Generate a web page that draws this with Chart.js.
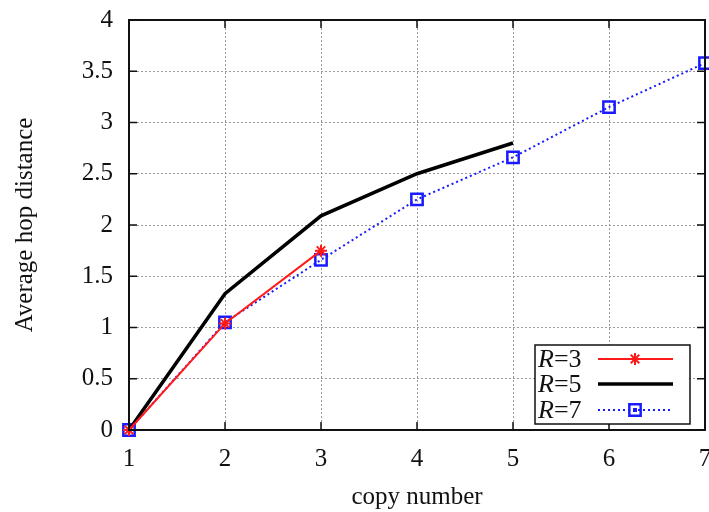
<!DOCTYPE html>
<html>
<head>
<meta charset="utf-8">
<script src="https://cdn.jsdelivr.net/npm/chart.js@4.4.0/dist/chart.umd.min.js"></script>
<style>
  html, body { margin: 0; padding: 0; background: #fff; }
  #wrap { width: 709px; height: 512px; }
</style>
</head>
<body>
<div id="wrap"><canvas id="hopChart" width="709" height="512"></canvas></div>
<script>
// Data
const copyNumbers = [1, 2, 3, 4, 5, 6, 7];
const hopR3 = [0, 1.04, 1.75];
const hopR5 = [0, 1.33, 2.09, 2.5, 2.8];
const hopR7 = [0, 1.05, 1.66, 2.25, 2.66, 3.15, 3.58];
const yTicks = [0, 0.5, 1, 1.5, 2, 2.5, 3, 3.5, 4];

const SERIF = '"Liberation Serif", "DejaVu Serif", serif';

// Frame, inward ticks and legend in gnuplot style
const framePlugin = {
    id: 'frame',
    afterDatasetsDraw(chart) {
        const { ctx, chartArea: a, scales } = chart;
        ctx.save();
        ctx.strokeStyle = '#111';
        ctx.lineWidth = 2;
        ctx.strokeRect(a.left, a.top, a.right - a.left, a.bottom - a.top);

        ctx.lineWidth = 1.5;
        ctx.beginPath();
        yTicks.forEach(v => {
            const y = scales.y.getPixelForValue(v);
            ctx.moveTo(a.left, y); ctx.lineTo(a.left + 8, y);
            ctx.moveTo(a.right, y); ctx.lineTo(a.right - 8, y);
        });
        copyNumbers.forEach((c, i) => {
            const x = scales.x.getPixelForValue(i);
            ctx.moveTo(x, a.bottom); ctx.lineTo(x, a.bottom - 8);
            ctx.moveTo(x, a.top); ctx.lineTo(x, a.top + 8);
        });
        ctx.stroke();

        // legend box
        const lx = 535, ly = 345, lw = 155, lh = 79;
        ctx.fillStyle = '#fff';
        ctx.fillRect(lx, ly, lw, lh);
        ctx.strokeStyle = '#111';
        ctx.lineWidth = 1.5;
        ctx.strokeRect(lx, ly, lw, lh);

        const rows = [359, 384, 410];
        chart.data.datasets.forEach((ds, i) => {
            const y = rows[i];
            ctx.fillStyle = '#111';
            ctx.textBaseline = 'middle';
            ctx.textAlign = 'left';
            ctx.font = 'italic 26px ' + SERIF;
            ctx.fillText('R', 538, y + 1);
            const rw = ctx.measureText('R').width;
            ctx.font = '26px ' + SERIF;
            ctx.fillText('=' + ds.label.split('=')[1], 538 + rw, y + 1);

            ctx.strokeStyle = ds.borderColor;
            ctx.lineWidth = ds.borderWidth;
            ctx.setLineDash(ds.borderDash || []);
            ctx.beginPath();
            ctx.moveTo(598, y); ctx.lineTo(673, y);
            ctx.stroke();
            ctx.setLineDash([]);
            if (ds.pointRadius > 0) {
                ctx.lineWidth = ds.pointBorderWidth;
                ctx.strokeStyle = ds.pointBorderColor;
                ctx.fillStyle = 'rgba(0,0,0,0)';
                Chart.helpers.drawPoint(ctx, {
                    pointStyle: ds.pointStyle,
                    radius: ds.pointRadius,
                    rotation: 0,
                    borderWidth: ds.pointBorderWidth
                }, 635, y);
                if (ds.pointStyle === 'rect') {
                    ctx.fillStyle = ds.pointBorderColor;
                    ctx.fillRect(633, y - 2, 4, 4);
                }
            }
        });
        ctx.restore();
    }
};

new Chart(document.getElementById('hopChart'), {
    type: 'line',
    data: {
        labels: copyNumbers,
        datasets: [{
            label: 'R=3',
            data: hopR3,
            borderColor: '#ff1a1a',
            borderWidth: 2,
            pointStyle: 'star',
            pointRadius: 6,
            pointBorderColor: '#ff1a1a',
            pointBorderWidth: 2,
            backgroundColor: 'transparent',
            tension: 0
        }, {
            label: 'R=5',
            data: hopR5,
            borderColor: '#000',
            borderWidth: 3.5,
            pointRadius: 0,
            tension: 0
        }, {
            label: 'R=7',
            data: hopR7,
            borderColor: '#1a1aff',
            borderWidth: 2,
            borderDash: [2, 3],
            pointStyle: 'rect',
            pointRadius: 8,
            pointBorderColor: '#1a1aff',
            pointBorderWidth: 2.5,
            pointBackgroundColor: 'transparent',
            tension: 0
        }]
    },
    options: {
        responsive: false,
        animation: false,
        clip: false,
        layout: { autoPadding: false, padding: { top: 20, right: 4, left: 0, bottom: 0 } },
        plugins: {
            legend: { display: false },
            tooltip: { enabled: false }
        },
        scales: {
            x: {
                type: 'category',
                offset: false,
                grid: {
                    color: '#9a9a9a',
                    lineWidth: 1,
                    drawTicks: false
                },
                border: { display: false, dash: [2, 2] },
                ticks: {
                    color: '#111',
                    font: { family: SERIF, size: 25 },
                    padding: 14,
                    maxRotation: 0
                },
                title: {
                    display: true,
                    text: 'copy number',
                    color: '#111',
                    font: { family: SERIF, size: 25 },
                    padding: { top: 6, bottom: 0 }
                },
                afterFit(scale) {
                    scale.height = 82;
                    scale.paddingLeft = 0;
                    scale.paddingRight = 0;
                }
            },
            y: {
                min: 0,
                max: 4,
                grid: {
                    color: '#9a9a9a',
                    lineWidth: 1,
                    drawTicks: false
                },
                border: { display: false, dash: [2, 2] },
                ticks: {
                    stepSize: 0.5,
                    color: '#111',
                    font: { family: SERIF, size: 25 },
                    padding: 16,
                    callback: v => String(v)
                },
                title: {
                    display: true,
                    text: 'Average hop distance',
                    color: '#111',
                    font: { family: SERIF, size: 25 },
                    padding: { top: 10, bottom: 0 }
                },
                afterFit(scale) {
                    scale.width = 129;
                    scale.paddingTop = 0;
                    scale.paddingBottom = 0;
                }
            }
        }
    },
    plugins: [framePlugin]
});
</script>
</body>
</html>
